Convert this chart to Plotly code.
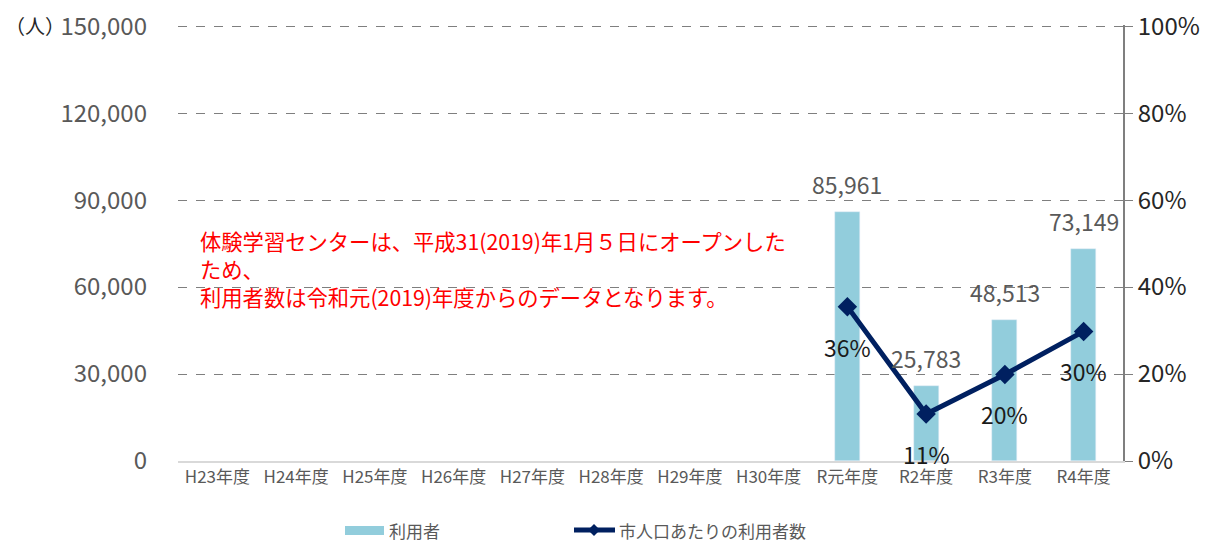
import plotly.graph_objects as go

categories = ["H23年度", "H24年度", "H25年度", "H26年度", "H27年度", "H28年度",
              "H29年度", "H30年度", "R元年度", "R2年度", "R3年度", "R4年度"]
users = [None, None, None, None, None, None, None, None, 85961, 25783, 48513, 73149]
ratio = [None, None, None, None, None, None, None, None, 0.355, 0.108, 0.199, 0.298]
ratio_labels = [None, None, None, None, None, None, None, None, "36%", "11%", "20%", "30%"]
y1_ticks = [0, 30000, 60000, 90000, 120000, 150000]
y2_ticks = [0, 0.2, 0.4, 0.6, 0.8, 1.0]
note_lines = ["体験学習センターは、平成31(2019)年1月５日にオープンした",
              "ため、",
              "利用者数は令和元(2019)年度からのデータとなります。"]
series_names = ["利用者", "市人口あたりの利用者数"]

FONT = "Noto Sans CJK JP"
NUMFONT = "Noto Sans CJK JP"
GRAY = "#595959"
BAR_COLOR = "#92CDDC"
LINE_COLOR = "#002060"

W, H = 1214, 542
plot_left, plot_right, plot_top, plot_bottom = 178, 1123, 25, 461
PW = plot_right - plot_left
PH = plot_bottom - plot_top


def px(x):
    return (x - plot_left) / PW


def py(y):
    return (plot_bottom - y) / PH


fig = go.Figure()
fig.add_trace(go.Bar(
    x=categories, y=users, name=series_names[0],
    marker=dict(color=BAR_COLOR), width=0.32, showlegend=False,
))
fig.add_trace(go.Scatter(
    x=categories, y=ratio, name=series_names[1], yaxis="y2",
    mode="lines+markers", showlegend=False,
    line=dict(color=LINE_COLOR, width=5),
    marker=dict(symbol="diamond", size=15, color=LINE_COLOR),
))

annotations = []
for c, v in zip(categories, users):
    if v is not None:
        annotations.append(dict(x=c, y=v, xref="x", yref="y", text=f"{v:,}",
                                showarrow=False, yanchor="middle", yshift=28,
                                font=dict(family=NUMFONT, size=23, color=GRAY)))
for c, v, t in zip(categories, ratio, ratio_labels):
    if v is not None:
        annotations.append(dict(x=c, y=v, xref="x", yref="y2", text=t,
                                showarrow=False, yanchor="middle", yshift=-40,
                                font=dict(family=NUMFONT, size=23, color="#1a1a1a")))
for i, line in enumerate(note_lines):
    annotations.append(dict(x=px(198), y=py(240 + 28 * i), xref="paper", yref="paper",
                            text=line, showarrow=False, xanchor="left", yanchor="middle",
                            font=dict(family=FONT, size=21.3, color="#FF0000")))

annotations.append(dict(x=px(3), y=py(25), xref="paper", yref="paper", text="（人）",
                        showarrow=False, xanchor="left", yanchor="middle",
                        font=dict(family=FONT, size=20, color="#262626")))

# custom legend (wide swatches as in the reference)
shapes = [
    dict(type="rect", xref="paper", yref="paper", x0=px(345), x1=px(384),
         y0=py(535), y1=py(526), fillcolor=BAR_COLOR, line=dict(width=0)),
    dict(type="line", xref="paper", yref="paper", x0=px(574), x1=px(615),
         y0=py(530), y1=py(530), line=dict(color=LINE_COLOR, width=5)),
    dict(type="path", xref="paper", yref="paper",
         path=f"M {px(594)} {py(524)} L {px(600)} {py(530)} L {px(594)} {py(536)} L {px(588)} {py(530)} Z",
         fillcolor=LINE_COLOR, line=dict(width=0)),
]
annotations.append(dict(x=px(387), y=py(530), xref="paper", yref="paper",
                        text=series_names[0], showarrow=False, xanchor="left",
                        yanchor="middle", font=dict(family=FONT, size=17, color=GRAY)))
annotations.append(dict(x=px(617), y=py(530), xref="paper", yref="paper",
                        text=series_names[1], showarrow=False, xanchor="left",
                        yanchor="middle", font=dict(family=FONT, size=17, color=GRAY)))

fig.update_layout(
    width=W, height=H,
    margin=dict(l=plot_left, r=W - plot_right, t=plot_top, b=H - plot_bottom,
                autoexpand=False),
    paper_bgcolor="white", plot_bgcolor="white",
    font=dict(family=FONT, color=GRAY),
    showlegend=False,
    xaxis=dict(type="category", categoryorder="array", categoryarray=categories,
               range=[-0.5, len(categories) - 0.5], autorange=False,
               showgrid=False, showline=True, linecolor="#D9D9D9", linewidth=2,
               tickfont=dict(family=NUMFONT, size=17, color=GRAY), ticks=""),
    yaxis=dict(range=[0, 150400], tickvals=y1_ticks,
               ticktext=[f"{v:,}" for v in y1_ticks],
               showgrid=True, gridcolor="#7F7F7F", griddash="dash", gridwidth=1,
               zeroline=False, showline=False, ticks="", ticklabelstandoff=30,
               tickfont=dict(family=NUMFONT, size=24, color=GRAY)),
    yaxis2=dict(range=[0, 1.0027], tickvals=y2_ticks,
                ticktext=[f"{int(round(v*100))}%" for v in y2_ticks],
                overlaying="y", side="right", showgrid=False, zeroline=False,
                showline=True, linecolor="#7F7F7F", linewidth=2,
                ticks="outside", ticklen=8, tickcolor="#7F7F7F",
                tickfont=dict(family=NUMFONT, size=24, color="#262626")),
    annotations=annotations,
    shapes=shapes,
    bargap=0,
)

fig.write_html("out.html", config={"displayModeBar": False},
               post_script="document.body.style.margin='0';")
